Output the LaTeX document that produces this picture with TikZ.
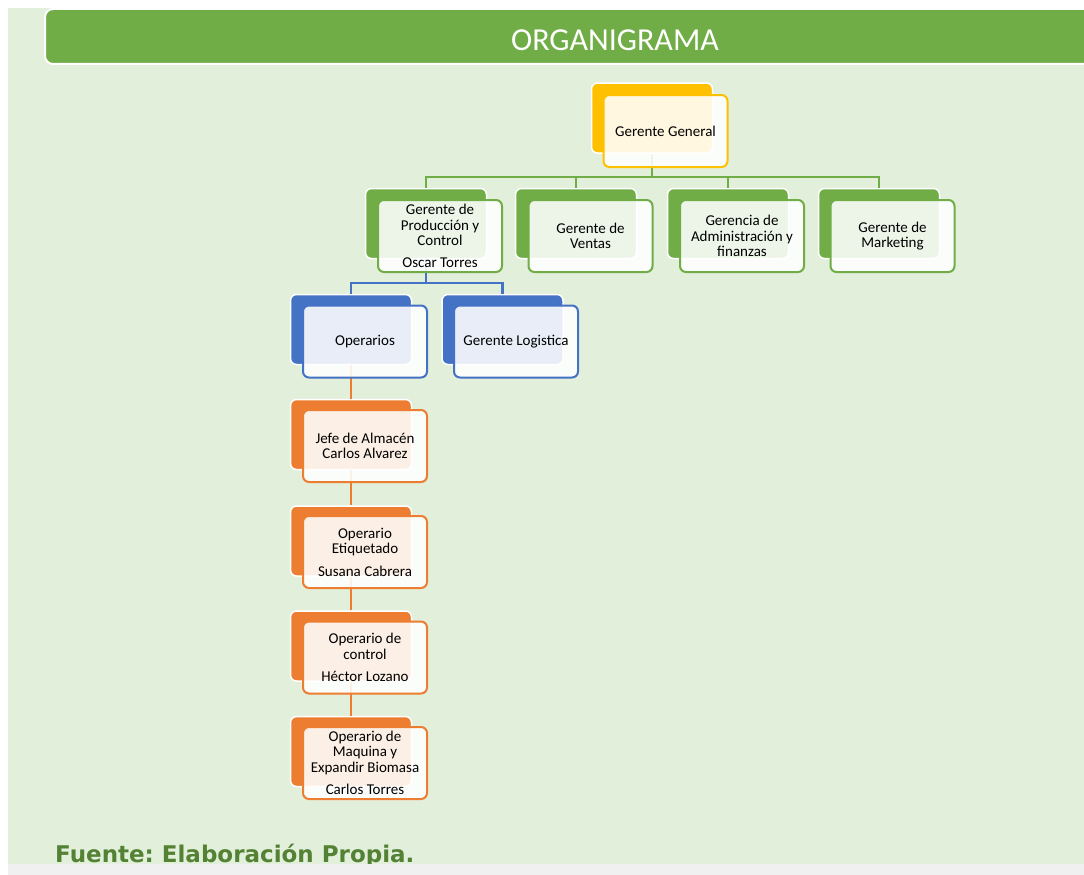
\documentclass[tikz,border=0pt]{standalone}
\usepackage{fontspec}
\setmainfont{Carlito}
\newfontfamily\footfont{DejaVu Sans}
\definecolor{bgc}{HTML}{E2EFDA}
\definecolor{greenc}{HTML}{70AD47}
\definecolor{goldc}{HTML}{FFC000}
\definecolor{bluec}{HTML}{4472C4}
\definecolor{orangec}{HTML}{ED7D31}
\definecolor{footc}{HTML}{548235}
\definecolor{grayc}{HTML}{F0F0F0}
\tikzset{
  backbox/.style={fill=#1, draw=white, line width=1.5pt, rounded corners=6pt,
    minimum width=121pt, minimum height=70pt, inner sep=0pt},
  frontbox/.style={draw=#1, line width=2pt, fill=white, fill opacity=0.88, text opacity=1,
    rounded corners=6pt, minimum width=124pt, minimum height=72pt, inner sep=0pt,
    align=center, font=\fontsize{15}{15.5}\selectfont},
  conn/.style={draw=#1, line width=2.3pt},
}
\begin{document}
\begin{tikzpicture}[x=1pt,y=-1pt]
\useasboundingbox (0,0) rectangle (1084,875);
\begin{scope}
\clip (0,0) rectangle (1084,875);
\fill[white] (0,0) rectangle (1084,875);
\fill[bgc] (8,8) rectangle (1084,875);
% title bar
\draw[fill=greenc, draw=white, line width=2pt, rounded corners=8pt] (1100,9) -- (45,9) -- (45,64) -- (1100,64);
\node[text=white, font=\fontsize{32}{32}\selectfont] (title) at (615,40) {ORGANIGRAMA};

% coordinates of connector bars
\coordinate (gy) at (0,177);
\coordinate (by) at (0,283);

% back boxes
\node[backbox=goldc] (ggb) at (652,118) {};
\node[backbox=greenc] (b1) at (426,223.5) {};
\node[backbox=greenc] (b2) at (576,223.5) {};
\node[backbox=greenc] (b3) at (728,223.5) {};
\node[backbox=greenc] (b4) at (879,223.5) {};
\node[backbox=bluec] (ob) at (351,329.5) {};
\node[backbox=bluec] (lb) at (502.5,329.5) {};
\node[backbox=orangec] (o1b) at (351,434.5) {};
\node[backbox=orangec] (o2b) at (351,541) {};
\node[backbox=orangec] (o3b) at (351,646) {};
\node[backbox=orangec] (o4b) at (351,751.5) {};

% connectors
\draw[conn=greenc] (ggb.south) -- (ggb.south |- gy);
\draw[conn=greenc] (b1.north) -- (b1.north |- gy) -- (b4.north |- gy) -- (b4.north);
\draw[conn=greenc] (b2.north) -- (b2.north |- gy);
\draw[conn=greenc] (b3.north) -- (b3.north |- gy);
\draw[conn=bluec] (b1.south) -- (b1.south |- by);
\draw[conn=bluec] (ob.north) -- (ob.north |- by) -- (lb.north |- by) -- (lb.north);
\draw[conn=orangec] (ob.south) -- (o1b.north);
\draw[conn=orangec] (o1b.south) -- (o2b.north);
\draw[conn=orangec] (o2b.south) -- (o3b.north);
\draw[conn=orangec] (o3b.south) -- (o4b.north);

% front boxes
\node[frontbox=goldc] (gg) at (665.5,131) {Gerente General};
\node[frontbox=greenc] (f1) at (440,236) {Gerente de\\Producción y\\Control\\[6pt]Oscar Torres};
\node[frontbox=greenc] (f2) at (590.5,236) {Gerente de\\Ventas};
\node[frontbox=greenc] (f3) at (742,236) {Gerencia de\\Administración y\\finanzas};
\node[frontbox=greenc] (f4) at (892.5,236) {Gerente de\\Marketing};
\node[frontbox=bluec] (op) at (365,341.5) {Operarios};
\node[frontbox=bluec] (gl) at (516,341.5) {Gerente Logistica};
\node[frontbox=orangec] (o1) at (365,446) {Jefe de Almacén\\Carlos Alvarez};
\node[frontbox=orangec] (o2) at (365,552) {Operario\\Etiquetado\\[7pt]Susana Cabrera};
\node[frontbox=orangec] (o3) at (365,657.5) {Operario de\\control\\[7pt]Héctor Lozano};
\node[frontbox=orangec] (o4) at (365,763) {Operario de\\Maquina y\\Expandir Biomasa\\[7pt]Carlos Torres};

% footer
\node[anchor=base west, inner sep=0pt, text=footc, font=\footfont\bfseries\fontsize{23}{23}\selectfont\frenchspacing] (foot) at (55,862) {Fuente: Elaboración Propia.};
\fill[grayc] (8,864) rectangle (1084,875);
\end{scope}
\end{tikzpicture}
\end{document}
